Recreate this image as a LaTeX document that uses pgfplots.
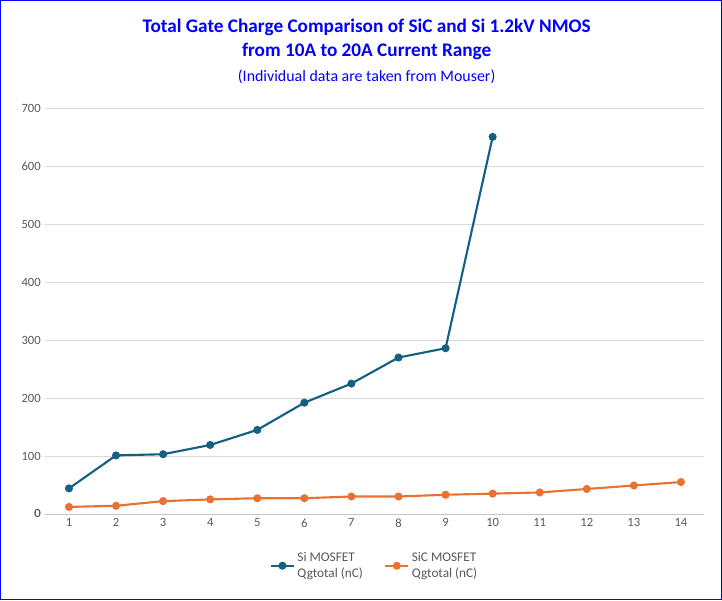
\documentclass[border=0pt]{standalone}
\usepackage{pgfplots}
\pgfplotsset{compat=1.18}
\usepackage{fontspec}
\setmainfont{Carlito}
\definecolor{siblue}{HTML}{156082}
\definecolor{sicor}{HTML}{E97132}
\definecolor{ttl}{HTML}{0000FF}
\definecolor{tk}{HTML}{595959}
\begin{document}
\begin{tikzpicture}
\path[use as bounding box, draw=ttl, line width=0.8pt] (0,0) rectangle (19.1cm,15.87cm);
\node[font=\bfseries\fontsize{14.5}{18}\selectfont, text=ttl, align=center] at (9.7cm,14.85cm) {Total Gate Charge Comparison of SiC and Si 1.2kV NMOS\\from 10A to 20A Current Range};
\node[font=\fontsize{12}{14}\selectfont, text=ttl] at (9.7cm,13.85cm) {(Individual data are taken from Mouser)};
\begin{axis}[at={(1.19cm,2.27cm)}, anchor=south west,
  width=17.46cm, height=10.74cm, scale only axis,
  xmin=0.5, xmax=14.5, ymin=0, ymax=700,
  xtick={1,...,14}, ytick={0,100,...,700},
  axis line style={draw=none}, tick style={draw=none},
  ymajorgrids, grid style={draw=gray!30},
  extra y ticks={0}, extra y tick style={grid style={draw=gray!45}},
  ticklabel style={font=\fontsize{9.5}{11}\selectfont, text=tk},
  /pgf/number format/assume math mode=true,
  legend style={at={(0.5,-0.08)}, anchor=north, draw=none, legend columns=2,
    font=\fontsize{10}{12.5}\selectfont, text=tk, align=left, anchor=north,
    /tikz/every even column/.append style={column sep=0.5cm}},
  legend cell align=left]
\addplot[siblue, line width=1.6pt, mark=*, mark size=2.2pt] coordinates {
(1,44)(2,101)(3,103)(4,119)(5,145)(6,192)(7,225)(8,270)(9,286)(10,651)};
\addlegendentry{\raisebox{0pt}[0pt][0pt]{}Si MOSFET\\Qgtotal (nC)}
\addplot[sicor, line width=1.6pt, mark=*, mark size=2.2pt] coordinates {
(1,12)(2,14)(3,22)(4,25)(5,27)(6,27)(7,30)(8,30)(9,33)(10,35)(11,37)(12,43)(13,49)(14,55)};
\addlegendentry{SiC MOSFET\\Qgtotal (nC)}
\end{axis}
\end{tikzpicture}
\end{document}
